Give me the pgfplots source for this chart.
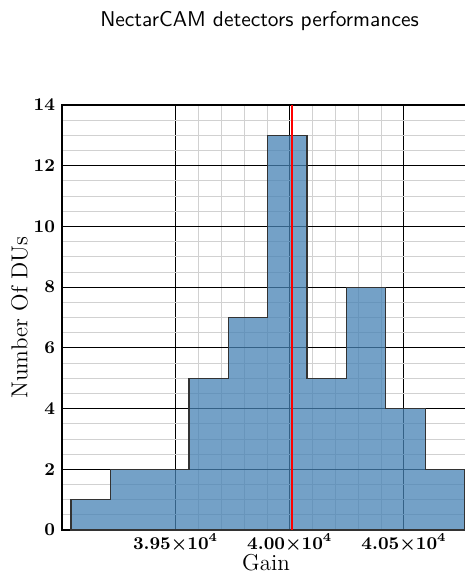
\documentclass[border=0pt]{standalone}
\usepackage{pgfplots}
\pgfplotsset{compat=1.18}
\definecolor{steel}{RGB}{70,130,180}
\begin{document}
\begin{tikzpicture}
\begin{axis}[
  at={(0,0)}, anchor=south west,
  scale only axis, width=204pt, height=212.5pt,
  xmin=39003, xmax=40789, ymin=0, ymax=14,
  scaled x ticks=false, scaled y ticks=false,
  xtick={39500,40000,40500},
  xticklabels={${3.95}{\times}{10^{4}}$,${4.00}{\times}{10^{4}}$,${4.05}{\times}{10^{4}}$},
  ytick={0,2,4,6,8,10,12,14},
  minor x tick num=4, minor y tick num=3,
  grid=both,
  major grid style={black, line width=0.5pt},
  minor grid style={black!18, line width=0.4pt},
  tick style={draw=none},
  axis line style={line width=0.8pt},
  ticklabel style={font=\fontsize{9}{10}\selectfont\boldmath},
  xticklabel style={yshift=1.5pt},
  label style={font=\fontsize{11.5}{13}\selectfont},
  xlabel={Gain}, ylabel={Number Of DUs},
  xlabel style={yshift=5.5pt},
  ylabel style={yshift=-4pt},
]
\addplot[const plot mark left, fill=steel, fill opacity=0.75, draw=black!80, line width=0.6pt]
  coordinates {(39042,1) (39214.3,2) (39386.6,2) (39558.9,5) (39731.2,7) (39903.5,13) (40075.8,5) (40248.1,8) (40420.4,4) (40592.7,2) (40765,2)} \closedcycle;
\addplot[red, line width=0.9pt] coordinates {(40009,0) (40009,14)};
\end{axis}
\node[anchor=base, font=\sffamily\fontsize{10.7}{12}\selectfont] at (98.75pt,251.5pt) {NectarCAM detectors performances};
\pgfresetboundingbox
\path[use as bounding box] (-31pt,-23pt) rectangle (201pt,265pt);
\end{tikzpicture}
\end{document}
